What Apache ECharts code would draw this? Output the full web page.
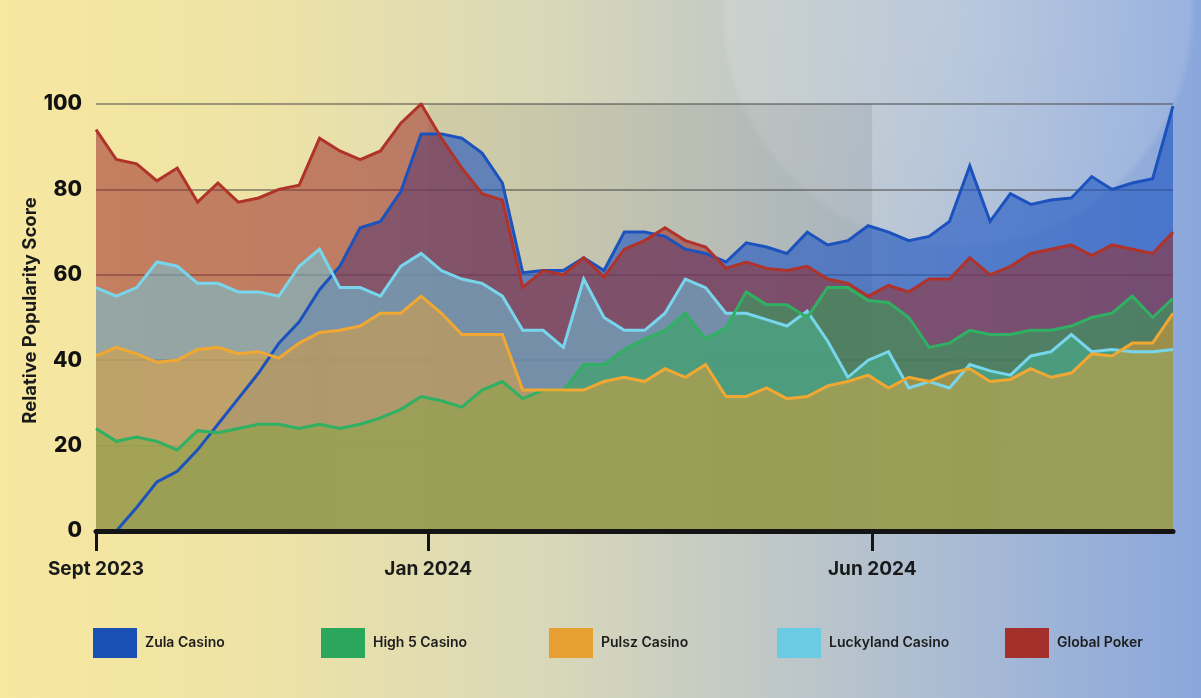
<!DOCTYPE html>
<html>
<head>
<meta charset="utf-8">
<script src="https://cdn.jsdelivr.net/npm/echarts@6/dist/echarts.min.js"></script>
<style>
html,body{margin:0;padding:0;}
body{width:1201px;height:698px;overflow:hidden;
background:
 radial-gradient(circle 238px at 958px 12px, rgba(255,255,255,0.20) 0%, rgba(255,255,255,0.12) 97%, rgba(255,255,255,0) 100%),
 linear-gradient(90deg,#f7e8a0 0%,#eee3a6 22%,#d9d8b8 45%,#c3cac6 62%,#a9bbd4 80%,#8aa7dc 100%);}
#chart{width:1201px;height:698px;}
</style>
</head>
<body>
<div id="chart"></div>
<script>
// ---- data (weekly relative popularity) ----
const zula = [0,0,5.5,11.5,14,19,25,31,37,44,49,56.5,62,71,72.5,79.5,93,93,92,88.5,81.5,60.5,61,61,64,61,70,70,69,66,65,63,67.5,66.5,65,70,67,68,71.5,70,68,69,72.5,85.5,72.5,79,76.5,77.5,78,83,80,81.5,82.5,99.5];
const high5 = [24,21,22,21,19,23.5,23,24,25,25,24,25,24,25,26.5,28.5,31.5,30.5,29,33,35,31,33,33,39,39,42.5,45,47,51,45,47.5,56,53,53,50,57,57,54,53.5,50,43,44,47,46,46,47,47,48,50,51,55,50,54.5];
const pulsz = [41,43,41.5,39.5,40,42.5,43,41.5,42,40.5,44,46.5,47,48,51,51,55,51,46,46,46,33,33,33,33,35,36,35,38,36,39,31.5,31.5,33.5,31,31.5,34,35,36.5,33.5,36,35,37,38,35,35.5,38,36,37,41.5,41,44,44,51];
const luckyland = [57,55,57,63,62,58,58,56,56,55,62,66,57,57,55,62,65,61,59,58,55,47,47,43,59,50,47,47,51,59,57,51,51,49.5,48,51.5,44.5,36,40,42,33.5,35,33.5,39,37.5,36.5,41,42,46,42,42.5,42,42,42.5];
const globalPoker = [94,87,86,82,85,77,81.5,77,78,80,81,92,89,87,89,95.5,100,92,85,79,77.5,57,61,60,64,59.5,66,68,71,68,66.5,61.5,63,61.5,61,62,59,58,55,57.5,56,59,59,64,60,62,65,66,67,64.5,67,66,65,70];

const seriesNames = ['Zula Casino','High 5 Casino','Pulsz Casino','Luckyland Casino','Global Poker'];
const tickLabels = ['Sept 2023','Jan 2024','Jun 2024'];
const tickPositions = [0, 16.35, 38.2];   // position on week index scale

// ---- styling ----
const cfg = {
  'Zula Casino':      {vals: zula,        line:'#1c52bd', icon:'#1a4fb3', fill:'rgba(31,86,194,0.62)'},
  'Global Poker':     {vals: globalPoker, line:'#b0332a', icon:'#a3302b', fill:'rgba(155,42,40,0.55)'},
  'Luckyland Casino': {vals: luckyland,   line:'#78d6ec', icon:'#6bcbe2', fill:'rgba(106,206,232,0.5)'},
  'High 5 Casino':    {vals: high5,       line:'#2fb062', icon:'#2ba75d', fill:'rgba(46,168,90,0.55)'},
  'Pulsz Casino':     {vals: pulsz,       line:'#f0a832', icon:'#e6a032', fill:'rgba(232,160,48,0.5)'}
};

const drawOrder = ['Zula Casino','Global Poker','Luckyland Casino','High 5 Casino','Pulsz Casino'];
const toPairs = arr => arr.map((v,i)=>[i,v]);
const series = [];
drawOrder.forEach((name,k)=>{
  const c = cfg[name];
  const s = {
    name, type:'line', data: toPairs(c.vals), symbol:'none', z: 2+k,
    lineStyle:{width:0}, itemStyle:{color:c.icon},
    areaStyle:{color:c.fill, opacity:1, origin:'start'}, silent:true
  };
  if (k===0) {
    s.markArea = {silent:true, itemStyle:{color:'rgba(40,40,40,0.09)'},
      data:[[{xAxis:tickPositions[1], yAxis:0},{xAxis:tickPositions[2], yAxis:100}]]};
  }
  series.push(s);
});
drawOrder.forEach((name,k)=>{
  const c = cfg[name];
  series.push({name, type:'line', data: toPairs(c.vals), symbol:'none', z: 10+k,
    lineStyle:{width:3, color:c.line, join:'miter'}, itemStyle:{color:c.icon}, silent:true});
});

const legendLefts = [93,321,549,777,1005];
const legends = seriesNames.map((n,i)=>({
  data:[n], left:legendLefts[i], top:628, padding:0, icon:'rect', itemWidth:44, itemHeight:30, itemGap:0,
  selectedMode:false,
  textStyle:{fontFamily:'Inter', fontWeight:600, fontSize:14, color:'#1d1d1d', padding:[0,0,0,3]}
}));

const chart = echarts.init(document.getElementById('chart'), null, {renderer:'canvas'});
chart.setOption({
  animation:false,
  backgroundColor:'transparent',
  grid:{left:96, right:28, top:104, bottom:167, containLabel:false},
  legend: legends,
  xAxis:{
    type:'value', min:0, max:zula.length-1, z:30,
    axisLine:{show:true, lineStyle:{color:'#141414', width:5}},
    axisTick:{show:true, customValues:tickPositions, length:20, lineStyle:{color:'#141414', width:3}},
    axisLabel:{show:true, customValues:tickPositions, margin:29,
      formatter:(v)=>{const i=tickPositions.findIndex(p=>Math.abs(p-v)<1e-6); return i>=0?tickLabels[i]:'';},
      fontFamily:'Inter', fontWeight:700, fontSize:19, color:'#1a1a1a'},
    splitLine:{show:false}
  },
  yAxis:{
    type:'value', min:0, max:100, interval:20,
    name:'Relative Popularity Score', nameLocation:'middle', nameGap:56, nameRotate:90,
    nameMoveOverlap:false,
    nameTextStyle:{fontFamily:'Inter', fontWeight:700, fontSize:18.5, color:'#1a1a1a', padding:[0,0,0,14]},
    axisLine:{show:false}, axisTick:{show:false},
    axisLabel:{margin:14, fontFamily:'Inter', fontWeight:800, fontSize:21, color:'#111'},
    splitLine:{show:true, lineStyle:{color:'rgba(70,70,70,0.5)', width:2}}
  },
  series
});
</script>
</body>
</html>
